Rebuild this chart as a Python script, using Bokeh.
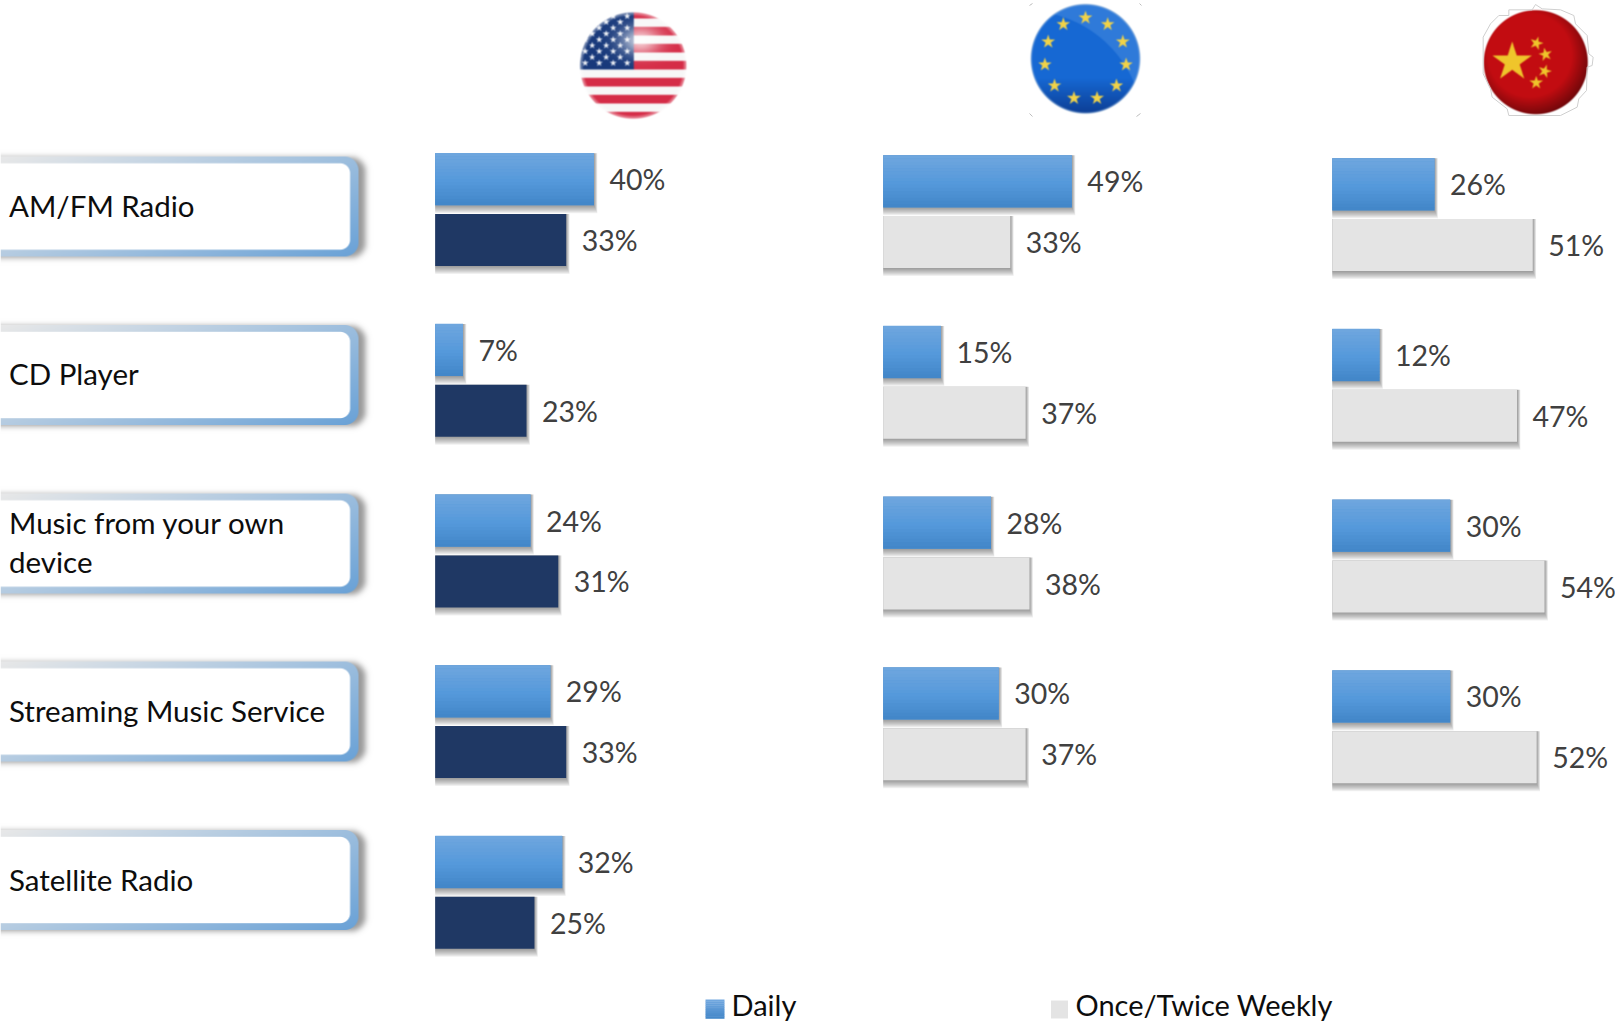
import numpy as np
from bokeh.plotting import figure
from bokeh.models import Range1d
from bokeh.core.properties import value
from bokeh.embed import file_html
from bokeh.resources import INLINE

# ---------- data ----------
categories = ["AM/FM Radio", "CD Player", "Music from your own\ndevice", "Streaming Music Service", "Satellite Radio"]
us_daily = [40, 7, 24, 29, 32]
us_weekly = [33, 23, 31, 33, 25]
eu_daily = [49, 15, 28, 30]
eu_weekly = [33, 37, 38, 37]
cn_daily = [26, 12, 30, 30]
cn_weekly = [51, 47, 54, 52]
legend_labels = ["Daily", "Once/Twice Weekly"]

# ---------- style / layout ----------
W, H = 1615, 1021
FONT = "Lato"
TEXT_DARK = "#0d0d0d"
TEXT_VAL = "#404040"
NAVY = "#1F3864"
GREY = "#E4E4E4"
GRAD_TOP, GRAD_MID, GRAD_BOT = (0x70, 0xA7, 0xDF), (0x55, 0x99, 0xDB), (0x42, 0x86, 0xC8)
ROW_PITCH = 170.7
BAR_OFF, BAR_H = 30.4, 52.0

p = figure(width=W, height=H, x_range=Range1d(0, W), y_range=Range1d(0, H),
           toolbar_location=None, output_backend="svg", min_border=0,
           x_axis_type=None, y_axis_type=None, outline_line_color=None,
           background_fill_color="white", border_fill_color="white")
p.grid.visible = False
p.styles = {"position": "absolute", "left": "0px", "top": "0px"}


def Y(y):
    return H - y


# ---------- raster helpers (flags and label frames) ----------
def hexc(s):
    return np.array([int(s[i:i + 2], 16) for i in (1, 3, 5)], float) / 255


def blur(a, sigma):
    r = int(3 * sigma) + 1
    k = np.exp(-0.5 * (np.arange(-r, r + 1) / sigma) ** 2)
    k /= k.sum()
    a = np.apply_along_axis(lambda v: np.convolve(np.pad(v, r, mode="edge"), k, "valid"), 0, a)
    a = np.apply_along_axis(lambda v: np.convolve(np.pad(v, r, mode="edge"), k, "valid"), 1, a)
    return a


def to_img(rgb):
    rgb8 = (np.clip(rgb, 0, 1) * 255 + 0.5).astype(np.uint32)
    out = rgb8[..., 0] | (rgb8[..., 1] << 8) | (rgb8[..., 2] << 16) | (255 << 24)
    return np.flipud(out.astype(np.uint32))


def place(rgb, x0, y0):
    h, w = rgb.shape[:2]
    p.image_rgba(image=[to_img(rgb)], x=[x0], y=[Y(y0 + h)], dw=[w], dh=[h])


def star_mask(X, Yy, cx, cy, R, rot=-np.pi / 2):
    dx, dy = X - cx, Yy - cy
    th = (np.arctan2(dy, dx) - rot) % (2 * np.pi / 5)
    th = np.minimum(th, 2 * np.pi / 5 - th)
    r = np.hypot(dx, dy)
    px, py = r * np.cos(th), r * np.sin(th)
    Ri = R * 0.382
    ax, ay = R, 0.0
    bx, by = Ri * np.cos(np.pi / 5), Ri * np.sin(np.pi / 5)
    return ((bx - ax) * (py - ay) - (by - ay) * (px - ax)) >= 0


def flag(cx, cy, rad, painter, pad=4, sm=0.6):
    x0, y0 = int(cx - rad - pad), int(cy - rad - pad)
    n = int(2 * rad + 2 * pad) + 1
    ss = 3
    g = (np.arange(n * ss) + 0.5) / ss
    X, Yy = np.meshgrid(g + x0, g + y0)
    rgb = painter(X, Yy)
    rgb = np.dstack([blur(rgb[..., i], sm * ss) for i in range(3)])
    d = np.hypot(X - cx, Yy - cy)
    a = np.clip((rad - d) / 1.2 + 0.5, 0, 1)[..., None]
    rgb = rgb * a + (1 - a)
    small = rgb.reshape(n, ss, n, ss, 3).mean(axis=(1, 3))
    place(small, x0, y0)


# US flag
UCX, UCY, UR = 632.7, 65.0, 53.3


def paint_us(X, Yy):
    red, white, navy = hexc("#D52C47"), hexc("#F7F7F7"), hexc("#18397B")
    st = 8.5
    k = np.floor((Yy - 69.0) / st).astype(int)
    rgb = np.where((k % 2 == 0)[..., None], white, red)
    can = (X < UCX + 0.5) & (Yy < 69.0)
    rgb = np.where(can[..., None], navy, rgb)
    for i, ys in enumerate(np.arange(62.5, 10, -5.85)):
        xs = np.arange(626.7, 575, -14.0) if i % 2 == 0 else np.arange(619.7, 575, -14.0)
        for xc in xs:
            m = star_mask(X, Yy, xc, ys, 3.6) & (X < UCX)
            rgb = np.where(m[..., None], hexc("#F2F4F8"), rgb)
    # gloss + soft rim
    gl = np.exp(-(((X - 640) / 20) ** 2 + ((Yy - 40) / 14) ** 2))[..., None] * 0.75
    rgb = rgb * (1 - gl) + gl
    d = np.hypot(X - UCX, Yy - UCY) / UR
    rim = np.clip((d - 0.93) / 0.07, 0, 1)[..., None] * 0.55
    return rgb * (1 - rim) + rim


flag(UCX, UCY, UR, paint_us, sm=0.5)

# EU flag
ECX, ECY, ER = 1085.0, 58.3, 55.0


def paint_eu(X, Yy):
    base = hexc("#1668D3")
    t = ((Yy - ECY) / ER)[..., None]
    rgb = base + np.clip(t - 0.35, 0, 1) * (hexc("#0C3F96") - base) * 1.6
    # gloss in the upper right
    gl = np.hypot(X - (ECX - 60), Yy - (ECY + 70)) > 118
    rgb = np.where(gl[..., None], rgb * 0.72 + hexc("#6FA9EA") * 0.28, rgb)
    for i in range(11):
        a = -np.pi / 2 + i * 2 * np.pi / 11
        m = star_mask(X, Yy, ECX + 41.0 * np.cos(a), ECY + 41.0 * np.sin(a), 7.2)
        rgb = np.where(m[..., None], hexc("#F1D348"), rgb)
    d = np.hypot(X - ECX, Yy - ECY) / ER
    rim = np.clip((d - 0.965) / 0.035, 0, 1)[..., None]
    return rgb * (1 - rim) + hexc("#A9C4E2") * rim


flag(ECX, ECY, ER, paint_eu, sm=0.45)
for sx, sy, ex, ey in [(1029, 5, 1032, 3), (1139, 3, 1141, 5), (1029, 113, 1032, 116), (1140, 113, 1136, 116)]:
    p.line([sx, ex], [Y(sy), Y(ey)], line_color="#BDBDBD", line_width=1)

# China flag
CCX, CCY, CR = 1535.3, 61.7, 52.0


def paint_cn(X, Yy):
    base = hexc("#C20C11")
    rgb = np.ones(X.shape + (3,)) * base
    big = star_mask(X, Yy, 1511.7, 61.5, 20.5)
    rgb = np.where(big[..., None], hexc("#EFC52B"), rgb)
    for xc, yc, rot in [(1536, 42.7, 0.3), (1545, 54, -0.2), (1544.3, 70.7, 0.3), (1535.7, 82.3, 0.0)]:
        m = star_mask(X, Yy, xc, yc, 7.0, rot=-np.pi / 2 + rot)
        rgb = np.where(m[..., None], hexc("#EFC52B"), rgb)
    d = np.hypot(X - CCX + 6, Yy - CCY + 7) / CR
    dark = np.clip((d - 0.8) / 0.4, 0, 1)[..., None] * 0.45
    return rgb * (1 - dark)


flag(CCX, CCY, CR, paint_cn, pad=2, sm=0.45)
stair = [(225, 12), (245, 25), (300, 28), (340, 45), (345, 70), (380, 105), (385, 160), (398, 170), (395, 195),
         (380, 200), (378, 270), (355, 295), (350, 320), (300, 345), (145, 345), (140, 325), (95, 290), (90, 265),
         (68, 220), (68, 110), (90, 70), (115, 45), (145, 45), (145, 28), (215, 28), (225, 12)]
p.line([1460 + a / 3 for a, b in stair], [Y(b / 3) for a, b in stair], line_color="#CFCFCF", line_width=1)


# ---------- label frames ----------
def frame_image():
    w, h = 376, 124
    xs, ys = np.meshgrid(np.arange(w) + 0.5, np.arange(h) + 0.5)

    def rr(xa, ya, xb, yb, r, ox=0.0, oy=0.0):
        cx, cy = (xa + xb) / 2 + ox, (ya + yb) / 2 + oy
        qx = np.abs(xs - cx) - (xb - xa) / 2 + r
        qy = np.abs(ys - cy) - (yb - ya) / 2 + r
        return np.hypot(np.maximum(qx, 0), np.maximum(qy, 0)) + np.minimum(np.maximum(qx, qy), 0) - r

    top, bot = 11.0, 111.0
    outer = rr(-40, top, 358, bot, 14)
    inner = rr(-40, top + 6.8, 349.6, bot - 6.8, 10)
    shadow = blur((rr(-40, top, 358, bot, 14, ox=7, oy=1) < 0).astype(float), 3.0) * 0.62
    rgb = np.ones((h, w, 3))
    rgb = rgb * (1 - shadow[..., None]) + hexc("#5A5A5A") * shadow[..., None]
    t = np.clip(0.6 * xs / 358 + 0.4 * (ys - top) / (bot - top), 0, 1)[..., None]
    col = hexc("#E8E8E8") * (1 - t) + hexc("#69A1D6") * t
    ao = np.clip(0.5 - outer, 0, 1)[..., None]
    rgb = rgb * (1 - ao) + col * ao
    ai = np.clip(0.5 - inner, 0, 1)[..., None]
    return rgb * (1 - ai) + ai


FRAME = frame_image()
BOX_TOPS = [145, 313.5, 482, 650, 818.5]
for r, _ in enumerate(categories):
    place(FRAME, 0, BOX_TOPS[r])

LABEL_PITCH = 168.4
LABEL_Y0 = 205.0
p.extra_y_ranges["labels"] = Range1d((H - LABEL_Y0) / LABEL_PITCH, -LABEL_Y0 / LABEL_PITCH)
p.text(x=[8.5] * len(categories), y=list(range(len(categories))), text=categories, y_range_name="labels",
       text_font=value(FONT), text_font_size="29.5px", text_color=TEXT_DARK, text_baseline="middle",
       text_align="left", text_line_height=1.12)


# ---------- bars ----------
def panel(name, x0, px_per_pct, group_centre, daily, second, second_color):
    p.extra_x_ranges[name] = Range1d(-x0 / px_per_pct, (W - x0) / px_per_pct)
    p.extra_y_ranges[name] = Range1d((H - group_centre) / ROW_PITCH, -group_centre / ROW_PITCH)
    kw = dict(x_range_name=name, y_range_name=name)
    rows = np.arange(len(daily))
    off = BAR_OFF / ROW_PITCH
    bh = BAR_H / ROW_PITCH
    for vals, pos in ((np.array(daily, float), rows - off), (np.array(second, float), rows + off)):
        # soft shadow under the bar: nested translucent bars, same top edge, fading downward
        for g in range(8, 0, -1):
            p.hbar(y=pos + g / 2 / ROW_PITCH, height=bh + g / ROW_PITCH, left=0,
                   right=vals + (g * 0.42) / px_per_pct, fill_color="#303030",
                   fill_alpha=0.075, line_color=None, **kw)
    d = np.array(daily, float)
    p.hbar(y=rows - off, height=bh, left=0, right=d, fill_color="#5599DB", line_color=None, **kw)
    n = 16
    for i in range(n):
        f = (i + 0.5) / n
        if f < 0.55:
            u = f / 0.55
            c = [GRAD_TOP[j] + (GRAD_MID[j] - GRAD_TOP[j]) * u for j in range(3)]
        else:
            u = (f - 0.55) / 0.45
            c = [GRAD_MID[j] + (GRAD_BOT[j] - GRAD_MID[j]) * u for j in range(3)]
        col = "#%02x%02x%02x" % tuple(int(v) for v in c)
        p.hbar(y=rows - off - bh / 2 + f * bh, height=bh / n * 1.1, left=0, right=d, fill_color=col,
               line_color=None, **kw)
    s = np.array(second, float)
    p.hbar(y=rows + off, height=bh, left=0, right=s, fill_color=second_color, line_color=None, **kw)
    for vals, pos in ((d, rows - off), (s, rows + off)):
        p.text(x=vals, y=pos, text=["%d%%" % v for v in vals], x_offset=15.5, text_font=value(FONT),
               text_font_size="28.5px", text_color=TEXT_VAL, text_baseline="middle", text_align="left", **kw)


panel("us", 434.7, 3.97, 209.1, us_daily, us_weekly, NAVY)
panel("eu", 882.7, 3.85, 211.2, eu_daily, eu_weekly, GREY)
panel("cn", 1331.8, 3.93, 214.2, cn_daily, cn_weekly, GREY)

# ---------- legend ----------
n = 10
for i in range(n):
    f = i / n
    c = [GRAD_TOP[j] + (GRAD_BOT[j] - GRAD_TOP[j]) * f for j in range(3)]
    p.quad(left=[705], right=[724], top=[Y(999 + f * 19)], bottom=[Y(999 + (f + 1 / n) * 19 + 0.3)],
           fill_color="#%02x%02x%02x" % tuple(int(v) for v in c), line_color=None)
p.quad(left=[1050.5], right=[1067.5], top=[Y(1000)], bottom=[Y(1018)], fill_color=GREY, line_color=None)
p.text(x=[731, 1075], y=[Y(1003.5), Y(1003.5)], text=legend_labels, text_font=value(FONT), text_font_size="29px",
       text_color=TEXT_DARK, text_baseline="middle", text_align="left")

open("out.html", "w").write(file_html(p, INLINE))
